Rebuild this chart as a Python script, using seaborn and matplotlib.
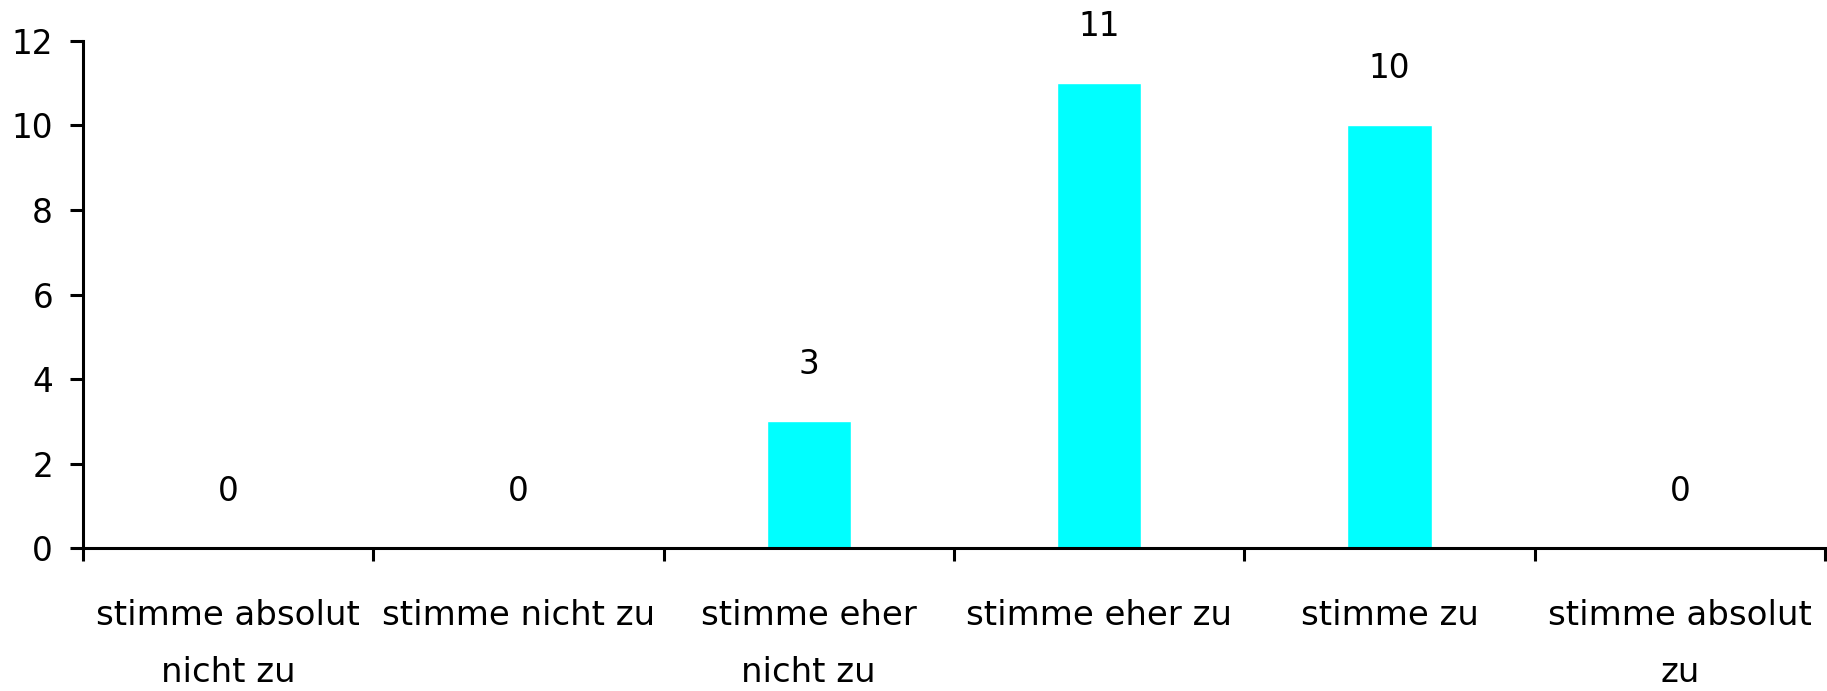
import numpy as np
import pandas as pd
import matplotlib
matplotlib.use("Agg")
import matplotlib.pyplot as plt
import seaborn as sns

categories = ["stimme absolut\nnicht zu", "stimme nicht zu", "stimme eher\nnicht zu",
              "stimme eher zu", "stimme zu", "stimme absolut\nzu"]
counts = [0, 0, 3, 11, 10, 0]
y_ticks = [0, 2, 4, 6, 8, 10, 12]

df = pd.DataFrame({"antwort": categories, "anzahl": counts})

sns.set_style("white")
plt.rcParams["font.family"] = ["DejaVu Sans"]
plt.rcParams["text.color"] = "black"
plt.rcParams["xtick.color"] = "black"
plt.rcParams["ytick.color"] = "black"

fig = plt.figure(figsize=(18.27, 6.91), dpi=100)
ax = fig.add_axes([0.0454, 0.2069, 0.9535, 0.7338])

sns.barplot(data=df, x="antwort", y="anzahl", color="#00FFFF", width=0.29,
            saturation=1, ax=ax)

ax.set_xlim(-0.5, len(categories) - 0.5)
ax.set_ylim(0, 12)
ax.set_yticks(y_ticks)
ax.set_yticklabels([str(t) for t in y_ticks])

# tick marks on category borders, labels in the middle
ax.set_xticks(np.arange(len(categories) + 1) - 0.5)
ax.set_xticklabels([])
ax.set_xticks(np.arange(len(categories)), minor=True)
ax.set_xticklabels(categories, minor=True, fontsize=24.5, linespacing=1.9,
                   va="top")
ax.tick_params(axis="x", which="major", length=9.5, width=2.2, direction="out",
               bottom=True, color="black")
ax.tick_params(axis="x", which="minor", length=0, pad=37, labelcolor="black")
ax.tick_params(axis="y", length=9.5, width=2.2, direction="out", left=True,
               labelsize=23.5, pad=12, color="black", labelcolor="black")

for s in ["top", "right"]:
    ax.spines[s].set_visible(False)
for s in ["left", "bottom"]:
    ax.spines[s].set_linewidth(2.2)
    ax.spines[s].set_color("black")

ax.set_xlabel("")
ax.set_ylabel("")

for i, v in enumerate(counts):
    ax.annotate(str(v), (i, v), xytext=(0, 34), textcoords="offset points",
                ha="center", va="baseline", fontsize=23.5, color="black",
                annotation_clip=False)

fig.savefig("out.png", dpi=100)
